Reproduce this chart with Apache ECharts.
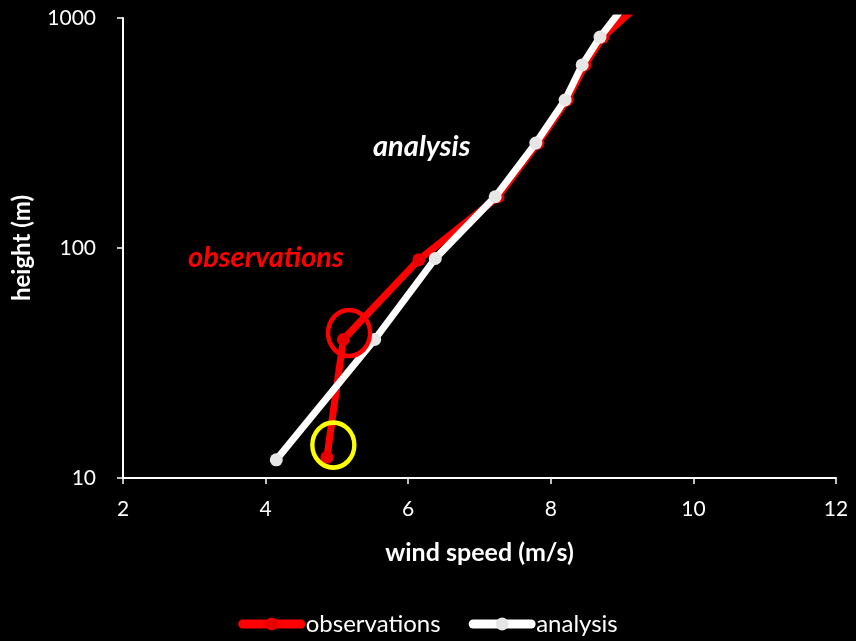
<!DOCTYPE html>
<html>
<head>
<meta charset="utf-8">
<script src="https://cdn.jsdelivr.net/npm/echarts@6/dist/echarts.min.js"></script>
<style>
  html, body { margin: 0; padding: 0; background: #000; }
  #chart { width: 856px; height: 641px; }
</style>
</head>
<body>
<div id="chart"></div>
<script>
// Wind profile: wind speed (m/s) against height (m), log height axis
const obsSpeed  = [4.86, 5.09, 6.15, 7.26, 7.82, 8.23, 8.48, 8.73, 9.24];
const obsHeight = [12.3, 40, 89, 167, 286, 440, 625, 826, 1150];
const anaSpeed  = [4.15, 5.53, 6.38, 7.22, 7.79, 8.20, 8.44, 8.69, 9.05];
const anaHeight = [12, 40, 90, 167, 286, 440, 625, 826, 1150];

// Highlighted spots on the observed profile
const highlightRed    = [5.17, 42.7];
const highlightYellow = [4.95, 13.9];

const xTicks = [2, 4, 6, 8, 10, 12];
const yTicks = [10, 100, 1000];

const FONT = 'Lato, "Open Sans", sans-serif';

const pairs = (xs, ys) => xs.map((x, i) => [x, ys[i]]);

const chart = echarts.init(document.getElementById('chart'));

chart.setOption({
  backgroundColor: '#000',
  animation: false,
  grid: { left: 123, right: 20, top: 18, bottom: 163 },
  legend: {
    top: 607,
    left: 'center',
    itemWidth: 58,
    itemHeight: 16,
    itemGap: 28,
    lineStyle: { width: 9, cap: 'round' },
    textStyle: { color: '#fff', fontSize: 24, fontFamily: FONT },
    data: ['observations', 'analysis']
  },
  xAxis: {
    type: 'value',
    min: xTicks[0],
    max: xTicks[xTicks.length - 1],
    interval: 2,
    name: 'wind speed (m/s)',
    nameLocation: 'middle',
    nameGap: 62,
    nameTextStyle: { color: '#fff', fontSize: 25, fontWeight: 'bold', fontFamily: FONT },
    axisLine: { show: true, lineStyle: { color: '#fff', width: 2 } },
    axisTick: { show: true, length: 6, lineStyle: { color: '#fff', width: 1.5 } },
    axisLabel: { color: '#fff', fontSize: 21, fontFamily: FONT, margin: 21 },
    splitLine: { show: false }
  },
  yAxis: {
    type: 'log',
    logBase: 10,
    min: yTicks[0],
    max: yTicks[yTicks.length - 1],
    name: 'height (m)',
    nameLocation: 'middle',
    nameGap: 89,
    nameRotate: 90,
    nameTextStyle: { color: '#fff', fontSize: 24, fontWeight: 'bold', fontFamily: FONT },
    axisLine: { show: true, lineStyle: { color: '#fff', width: 2 } },
    axisTick: { show: true, length: 6, lineStyle: { color: '#fff', width: 1.5 } },
    axisLabel: {
      color: '#fff', fontSize: 21, fontFamily: FONT, margin: 27,
      formatter: v => String(Math.round(v))
    },
    minorTick: { show: false },
    splitLine: { show: false }
  },
  series: [
    {
      name: 'observations',
      type: 'line',
      data: pairs(obsSpeed, obsHeight),
      clip: true,
      symbol: 'circle',
      symbolSize: 13,
      color: '#ff0000',
      lineStyle: { color: '#ff0000', width: 7 },
      itemStyle: { color: '#e80000' },
      z: 2
    },
    {
      name: 'analysis',
      type: 'line',
      data: pairs(anaSpeed, anaHeight),
      clip: true,
      symbol: 'circle',
      symbolSize: 13,
      color: '#ffffff',
      lineStyle: { color: '#ffffff', width: 7 },
      itemStyle: { color: '#e6e6e6' },
      z: 3
    },
    {
      name: 'highlight-red',
      type: 'scatter',
      data: [highlightRed],
      symbol: 'circle',
      symbolSize: [42, 46],
      itemStyle: { color: 'rgba(0,0,0,0)', borderColor: '#ff0000', borderWidth: 4.5, opacity: 1 },
      silent: true,
      z: 5
    },
    {
      name: 'highlight-yellow',
      type: 'scatter',
      data: [highlightYellow],
      symbol: 'circle',
      symbolSize: [42, 45],
      itemStyle: { color: 'rgba(0,0,0,0)', borderColor: '#ffff00', borderWidth: 4.5, opacity: 1 },
      silent: true,
      z: 5
    }
  ],
  graphic: [
    {
      type: 'text',
      left: 373,
      top: 132,
      style: {
        text: 'analysis',
        fill: '#fff',
        font: 'italic bold 29px ' + FONT
      }
    },
    {
      type: 'text',
      left: 188,
      top: 243,
      style: {
        text: 'observations',
        fill: '#ff0000',
        font: 'italic bold 29px ' + FONT
      }
    }
  ]
});
</script>
</body>
</html>
